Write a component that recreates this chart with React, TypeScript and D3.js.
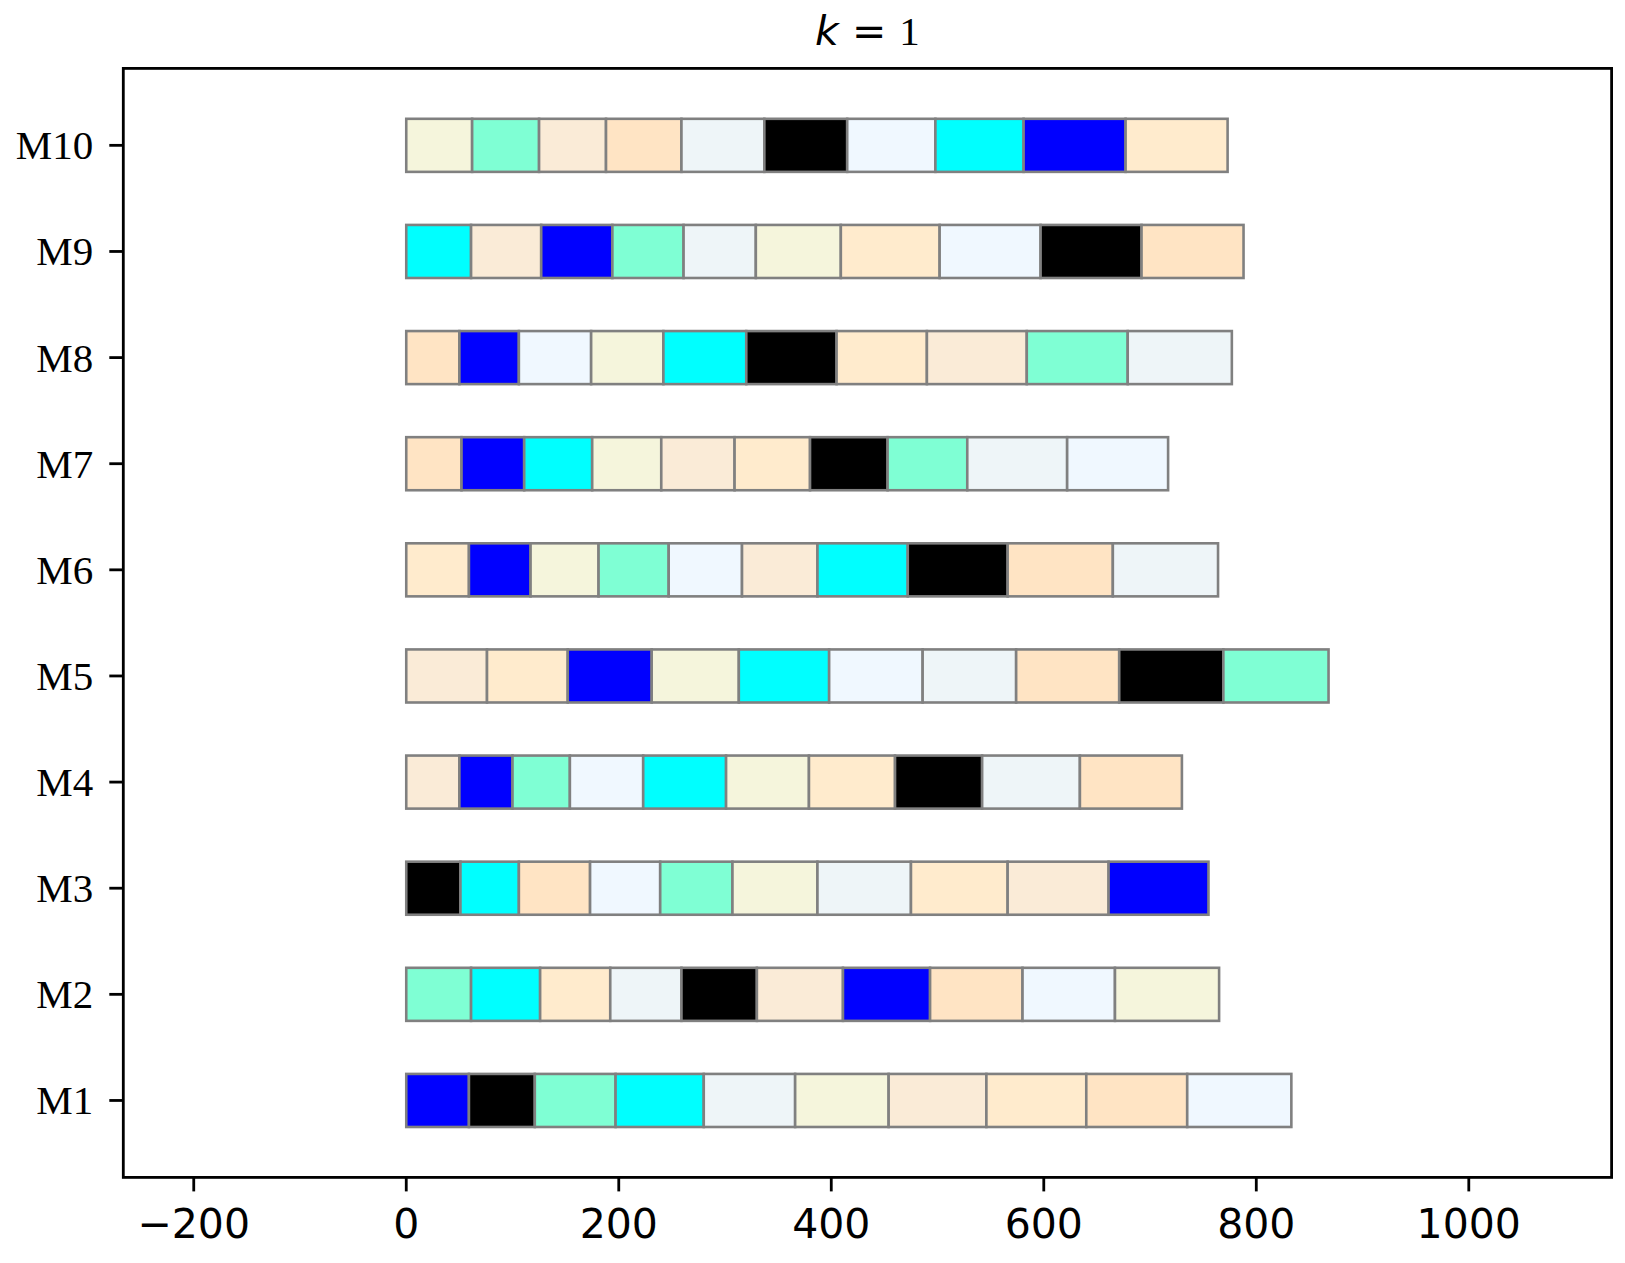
import React from "react";
import * as d3 from "d3";

const machines = ["M1", "M2", "M3", "M4", "M5", "M6", "M7", "M8", "M9", "M10"];

// job colours in order per machine (bottom M1 to top M10)
const jobColors: string[][] = [
  ["blue", "black", "aquamarine", "aqua", "azure", "beige", "antiquewhite", "blanchedalmond", "bisque", "aliceblue"],
  ["aquamarine", "aqua", "blanchedalmond", "azure", "black", "antiquewhite", "blue", "bisque", "aliceblue", "beige"],
  ["black", "aqua", "bisque", "aliceblue", "aquamarine", "beige", "azure", "blanchedalmond", "antiquewhite", "blue"],
  ["antiquewhite", "blue", "aquamarine", "aliceblue", "aqua", "beige", "blanchedalmond", "black", "azure", "bisque"],
  ["antiquewhite", "blanchedalmond", "blue", "beige", "aqua", "aliceblue", "azure", "bisque", "black", "aquamarine"],
  ["blanchedalmond", "blue", "beige", "aquamarine", "aliceblue", "antiquewhite", "aqua", "black", "bisque", "azure"],
  ["bisque", "blue", "aqua", "beige", "antiquewhite", "blanchedalmond", "black", "aquamarine", "azure", "aliceblue"],
  ["bisque", "blue", "aliceblue", "beige", "aqua", "black", "blanchedalmond", "antiquewhite", "aquamarine", "azure"],
  ["aqua", "antiquewhite", "blue", "aquamarine", "azure", "beige", "blanchedalmond", "aliceblue", "black", "bisque"],
  ["beige", "aquamarine", "antiquewhite", "bisque", "azure", "black", "aliceblue", "aqua", "blue", "blanchedalmond"],
];

// operation boundaries (start of each op, last value = end of last op)
const boundaries: number[][] = [
  [0, 59, 121, 197, 280, 366, 454, 546, 640, 735, 833],
  [0, 61, 126, 192, 259, 330, 411, 493, 580, 667, 765],
  [0, 51, 106, 173, 239, 307, 387, 475, 566, 661, 755],
  [0, 50, 100, 154, 223, 301, 379, 460, 542, 634, 730],
  [0, 76, 152, 231, 313, 398, 486, 574, 671, 769, 868],
  [0, 59, 117, 181, 247, 316, 387, 472, 566, 665, 764],
  [0, 52, 111, 175, 240, 309, 380, 453, 528, 622, 717],
  [0, 50, 106, 174, 242, 320, 405, 490, 584, 679, 777],
  [0, 61, 127, 194, 261, 329, 409, 502, 597, 692, 788],
  [0, 62, 125, 188, 259, 337, 415, 498, 581, 677, 773],
];

const xTicks = [-200, 0, 200, 400, 600, 800, 1000];

const colorMap: Record<string, string> = {
  aliceblue: "#F0F8FF",
  antiquewhite: "#FAEBD7",
  aqua: "#00FFFF",
  aquamarine: "#7FFFD4",
  azure: "#EEF5F8",
  beige: "#F5F5DC",
  bisque: "#FFE4C4",
  black: "#000000",
  blanchedalmond: "#FFEBCD",
  blue: "#0000FF",
};

export default function App() {
  const W = 1625, H = 1263;
  const left = 123.3, right = 1611.6, top = 68.4, bottom = 1177.4;
  const x = d3.scaleLinear().domain([-266.3, 1134.4]).range([left, right]);
  const y = d3.scaleLinear().domain([0.275, 10.725]).range([bottom, top]);
  const barH = 0.5;

  const fmt = (v: number) => (v < 0 ? "\u2212" + Math.abs(v) : String(v));

  return (
    <svg width={W} height={H} style={{ position: "absolute", left: 0, top: 0, background: "white" }}>
      <rect x={0} y={0} width={W} height={H} fill="white" />
      {boundaries.map((b, mi) =>
        b.slice(0, -1).map((s, j) => {
          const e = b[j + 1];
          const yc = mi + 1;
          return (
            <rect
              key={`${mi}-${j}`}
              x={x(s)}
              y={y(yc + barH / 2)}
              width={x(e) - x(s)}
              height={y(yc - barH / 2) - y(yc + barH / 2)}
              fill={colorMap[jobColors[mi][j]]}
              stroke="#808080"
              strokeWidth={2.6}
            />
          );
        })
      )}
      {/* axes frame */}
      <rect x={left} y={top} width={right - left} height={bottom - top} fill="none" stroke="black" strokeWidth={2.8} />
      {/* y ticks */}
      {machines.map((m, i) => (
        <g key={m}>
          <line x1={left - 14} x2={left} y1={y(i + 1)} y2={y(i + 1)} stroke="black" strokeWidth={2.8} />
          <text
            x={left - 30}
            y={y(i + 1)}
            textAnchor="end"
            dominantBaseline="central"
            fontFamily="'Liberation Serif', 'Times New Roman', serif"
            fontSize={41}
            fill="black"
          >
            {m}
          </text>
        </g>
      ))}
      {/* x ticks */}
      {xTicks.map((t) => (
        <g key={t}>
          <line x1={x(t)} x2={x(t)} y1={bottom} y2={bottom + 14} stroke="black" strokeWidth={2.8} />
          <text
            x={x(t)}
            y={bottom + 61}
            textAnchor="middle"
            fontFamily="'DejaVu Sans', sans-serif"
            fontSize={41}
            fill="black"
          >
            {fmt(t)}
          </text>
        </g>
      ))}
      {/* title */}
      <text x={(left + right) / 2} y={45} textAnchor="middle" fontSize={41} fill="black">
        <tspan fontFamily="'DejaVu Sans', sans-serif" fontStyle="oblique">k</tspan>
        <tspan fontFamily="'DejaVu Sans', sans-serif"> = </tspan>
        <tspan fontFamily="'Liberation Serif', serif"> 1</tspan>
      </text>
    </svg>
  );
}
